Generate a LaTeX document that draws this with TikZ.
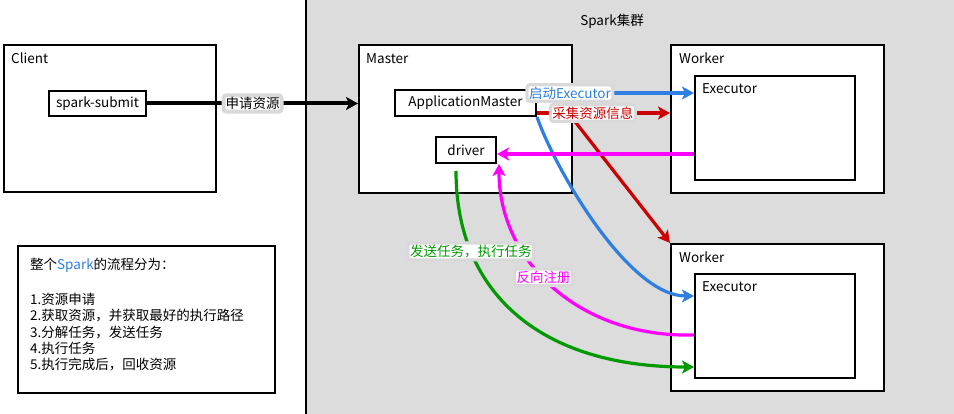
\documentclass[tikz,border=0pt]{standalone}
\usepackage{fontspec}
\setmainfont{Noto Sans CJK SC}
\usetikzlibrary{arrows.meta}
\definecolor{clustergray}{HTML}{DCDCDC}
\definecolor{exblue}{HTML}{2F7EE2}
\definecolor{exred}{HTML}{CC0000}
\definecolor{exgreen}{HTML}{009900}
\definecolor{expink}{HTML}{FF00FF}

\begin{document}
\begin{tikzpicture}[x=1pt,y=-1pt,
  font=\fontsize{13.5}{16.25}\selectfont,
  box/.style={draw,line width=2pt,fill=white,inner sep=0pt},
  title/.style={anchor=north west,inner sep=0pt},
  tag/.style={fill=white,draw=black!15,rounded corners=3pt,inner sep=2pt},
  flow/.style={line width=3.2pt,-{Stealth[length=12pt,width=13pt,inset=3pt]}}]
\useasboundingbox (0,0) rectangle (954,414);
\fill[clustergray] (306,0) rectangle (954,414);
\draw[line width=2pt] (306,0) -- (306,414);
\node (cluster) at (612,21) {Spark集群};

\node[box,minimum width=212pt,minimum height=147pt] (client) at (110,118.5) {};
\node[title] (clientname) at ([shift={(8pt,-9pt)}]client.north west) {Client};
\node[box,minimum width=97pt,minimum height=25pt] (submit) at (97.5,103.5) {spark-submit};

\node[box,minimum width=257pt,minimum height=147pt] (steps) at (146.5,319.5) {};
\node[title,align=left] (stepstext) at ([shift={(13pt,-13pt)}]steps.north west)
  {整个{\color{exblue}Spark}的流程分为：\\[18.75pt]
   1.资源申请\\
   2.获取资源，并获取最好的执行路径\\
   3.分解任务，发送任务\\
   4.执行任务\\
   5.执行完成后，回收资源};

\node[box,minimum width=213pt,minimum height=148pt] (master) at (465.5,119) {};
\node[title] (mastername) at ([shift={(8pt,-9pt)}]master.north west) {Master};
\node[box,minimum width=141pt,minimum height=26pt] (am) at (465.5,103) {ApplicationMaster};
\node[box,minimum width=60pt,minimum height=26pt] (driver) at (466,150) {driver};

\node[box,minimum width=213pt,minimum height=148pt] (worker1) at (777.5,119) {};
\node[title] (worker1name) at ([shift={(9pt,-9pt)}]worker1.north west) {Worker};
\node[box,minimum width=160pt,minimum height=104pt] (exec1) at (775,128) {};
\node[title] (exec1name) at ([shift={(8pt,-8pt)}]exec1.north west) {Executor};

\node[box,minimum width=213pt,minimum height=147pt] (worker2) at (777.5,317.5) {};
\node[title] (worker2name) at ([shift={(9pt,-9pt)}]worker2.north west) {Worker};
\node[box,minimum width=160pt,minimum height=104pt] (exec2) at (775,326) {};
\node[title] (exec2name) at ([shift={(8pt,-8pt)}]exec2.north west) {Executor};

\draw[flow,exblue] (am.south east) .. controls +(19,54) and +(-65,0) .. ([yshift=30pt]exec2.west);
\draw[flow,exred] (master.east) -- (worker2.north west);
\draw[flow,expink] ([yshift=-26pt]exec1.west) coordinate (p0) -- (p0 -| driver.east);
\draw[flow,expink] ([yshift=-9pt]exec2.west) .. controls +(-115,3) and +(0,97) .. ([xshift=2pt]driver.south east)
  node[tag,pos=0.55,text=expink] (registertag) {反向注册};
\draw[flow,exgreen] ([shift={(-10pt,-7pt)}]driver.south) .. controls +(0,125) and +(-150,0) .. ([yshift=-41pt]exec2.west)
  node[tag,pos=0.24,text=exgreen] (tasktag) {发送任务，执行任务};
\draw[flow,line width=4pt,black] (submit.east) -- (submit.east -| master.west)
  node[tag,midway] (applytag) {申请资源};
\draw[flow,exblue] ([yshift=10pt]am.east) coordinate (b0) -- (b0 -| exec1.west)
  node[tag,pos=0.21,text=exblue] (starttag) {启动Executor};
\draw[flow,exred] ([yshift=-10pt]am.east) coordinate (r0) -- (r0 -| worker1.west)
  node[tag,pos=0.42,text=exred] (collecttag) {采集资源信息};
\end{tikzpicture}
\end{document}
